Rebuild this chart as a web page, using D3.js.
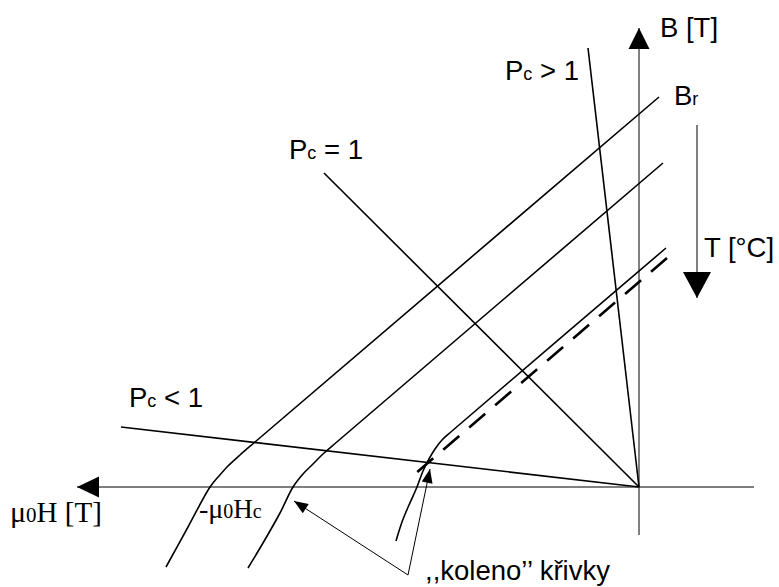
<!DOCTYPE html>
<html>
<head>
<meta charset="utf-8">
<script src="https://cdn.jsdelivr.net/npm/d3@7"></script>
<style>
  html, body { margin: 0; padding: 0; background: #fff; }
  svg { display: block; }
  .sans { font-family: "Liberation Sans", Arial, sans-serif; font-size: 27.5px; fill: #000; }
  .serif { font-family: "Liberation Serif", "Times New Roman", serif; fill: #000; }
</style>
</head>
<body>
<svg id="chart" width="779" height="587"></svg>
<script>
// Demagnetisation curves B(μ0H) of a permanent magnet for rising temperature,
// with load lines for permeance coefficients Pc < 1, Pc = 1 and Pc > 1.
// All values are [μ0H, B] in diagram units.

const curveCold = [[0.20, 3.90], [-3.84, 0.45], [-3.99, 0.32], [-4.11, 0.21], [-4.20, 0.11],
                   [-4.29, 0.00], [-4.51, -0.40], [-4.73, -0.80]];
const curveWarm = [[0.24, 3.24], [-3.01, 0.46], [-3.16, 0.33], [-3.27, 0.22], [-3.36, 0.13],
                   [-3.46, 0.00], [-3.59, -0.26], [-3.76, -0.56], [-3.91, -0.81]];
const curveHot  = [[0.27, 2.39], [-1.87, 0.56], [-1.97, 0.47], [-2.04, 0.38], [-2.10, 0.28],
                   [-2.16, 0.16], [-2.22, 0.00], [-2.30, -0.18], [-2.37, -0.35], [-2.43, -0.54]];
const linearPart = [[0.28, 2.29], [-2.23, 0.14]];

const loadPcHigh = [[0, 0], [-0.51, 4.39]];
const loadPcOne  = [[0, 0], [-3.15, 3.14]];
const loadPcLow  = [[0, 0], [-5.18, 0.60]];

const hAxis = [[1.15, 0], [-5.62, 0]];
const bAxis = [[0, -0.48], [0, 4.59]];
const tempArrow = [[0.58, 3.62], [0.58, 1.89]];

const kneeCallout = [[-2.31, -0.88]];
const kneeTargets = [[-3.45, -0.14], [-2.09, 0.18]];

const x = d3.scaleLinear().domain([-6.39, 1.40]).range([0, 779]);
const y = d3.scaleLinear().domain([-1.00, 4.87]).range([587, 0]);

const svg = d3.select("#chart");

const straight = d3.line().x(d => x(d[0])).y(d => y(d[1]));
const smooth = d3.line().x(d => x(d[0])).y(d => y(d[1])).curve(d3.curveCatmullRom.alpha(0.5));

// filled triangular arrow head, tip at p, pointing away from q
function arrowHead(p, q, len, halfW) {
  const tx = x(p[0]), ty = y(p[1]);
  const dx = tx - x(q[0]), dy = ty - y(q[1]);
  const n = Math.hypot(dx, dy), ux = dx / n, uy = dy / n;
  const bx = tx - ux * len, by = ty - uy * len;
  const pts = [[tx, ty], [bx - uy * halfW, by + ux * halfW], [bx + uy * halfW, by - ux * halfW]];
  svg.append("path").attr("d", "M" + pts.map(p => p.join(",")).join("L") + "Z").attr("fill", "#000");
}

function arrowLine(data, width, len, halfW) {
  const a = data[0], b = data[1];
  svg.append("path").attr("d", straight(data)).attr("fill", "none")
    .attr("stroke", "#000").attr("stroke-width", width);
  arrowHead(b, a, len, halfW);
}

// axes
arrowLine(hAxis, 1, 22, 10.5);
arrowLine(bAxis, 1, 21, 10.5);
// temperature direction
arrowLine(tempArrow, 1, 26, 14);

// load lines
[loadPcHigh, loadPcOne, loadPcLow].forEach(d => {
  svg.append("path").attr("d", straight(d)).attr("fill", "none")
    .attr("stroke", "#000").attr("stroke-width", 1.6);
});

// B(H) curves
[curveCold, curveWarm, curveHot].forEach(d => {
  svg.append("path").attr("d", smooth(d)).attr("fill", "none")
    .attr("stroke", "#000").attr("stroke-width", 1.6);
});

// extension of the linear part
svg.append("path").attr("d", straight(linearPart)).attr("fill", "none")
  .attr("stroke", "#000").attr("stroke-width", 2.6).attr("stroke-dasharray", "21,13.2");

// knee callout arrows
kneeTargets.forEach(t => {
  const seg = [kneeCallout[0], t];
  svg.append("path").attr("d", straight(seg)).attr("fill", "none")
    .attr("stroke", "#000").attr("stroke-width", 1);
  arrowHead(t, kneeCallout[0], 14, 5.5);
});

// labels
function sansLabel(h, b, parts) {
  const t = svg.append("text").attr("class", "sans").attr("x", x(h)).attr("y", y(b));
  parts.forEach(p => {
    const s = t.append("tspan").text(p[0]);
    if (p[1]) s.attr("font-size", p[1]);
  });
}
function serifLabel(h, b, parts) {
  const t = svg.append("text").attr("class", "serif").attr("x", x(h)).attr("y", y(b));
  parts.forEach(p => t.append("tspan").attr("font-size", p[1]).text(p[0]));
}

sansLabel(0.21, 4.50, [["B [T]"]]);
sansLabel(-1.34, 4.07, [["P"], ["c", 18], [" > 1"]]);
sansLabel(0.35, 3.82, [["B"], ["r", 18]]);
sansLabel(-3.50, 3.28, [["P"], ["c", 18], [" = 1"]]);
sansLabel(0.65, 2.30, [["T [°C]"]]);
sansLabel(-5.10, 0.80, [["P"], ["c", 18], [" < 1"]]);
sansLabel(-2.14, -0.93, [[",,koleno’’ křivky"]]);

serifLabel(-6.29, -0.35, [["μ", 30], ["0", 21], ["H [T]", 29]]);
serifLabel(-4.40, -0.31, [["-μ", 28], ["0", 20], ["H", 27], ["c", 20]]);
</script>
</body>
</html>
